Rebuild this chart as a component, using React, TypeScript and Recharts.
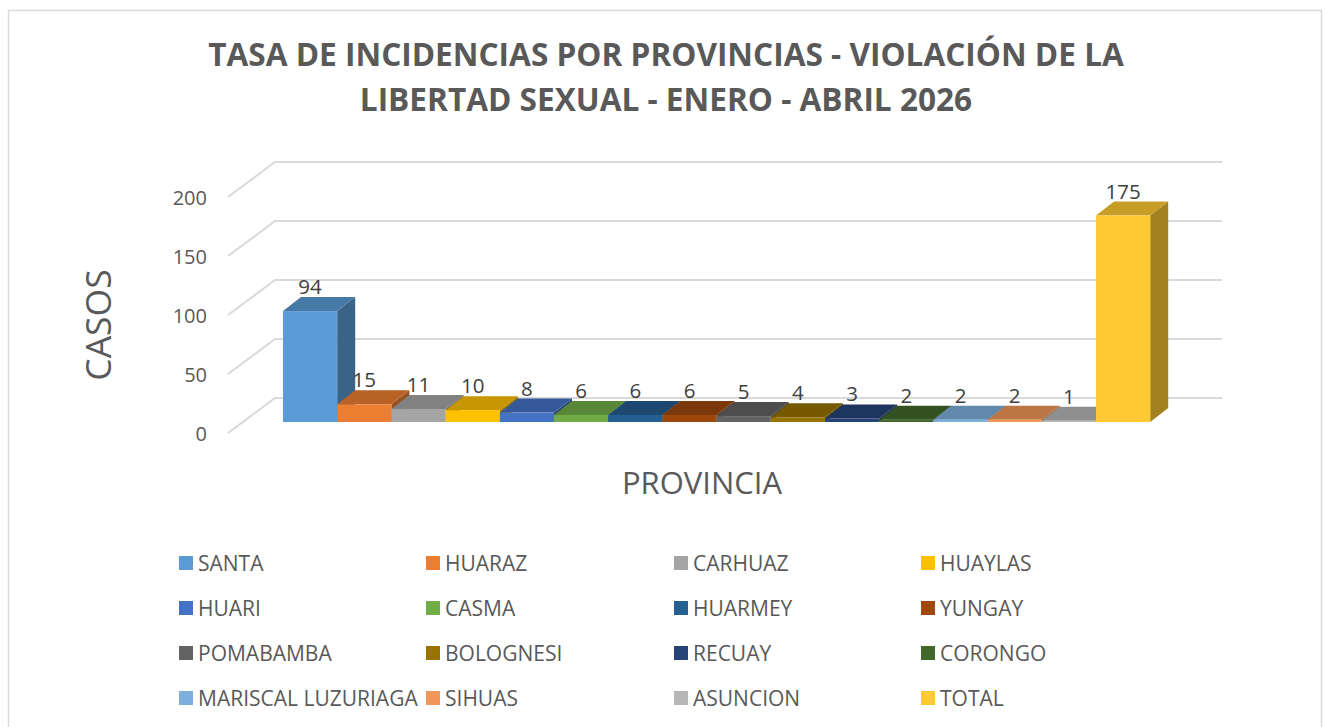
import { Bar, BarChart, CartesianGrid, LabelList, XAxis, YAxis } from 'recharts'

const provinces = [
  'SANTA', 'HUARAZ', 'CARHUAZ', 'HUAYLAS',
  'HUARI', 'CASMA', 'HUARMEY', 'YUNGAY',
  'POMABAMBA', 'BOLOGNESI', 'RECUAY', 'CORONGO',
  'MARISCAL LUZURIAGA', 'SIHUAS', 'ASUNCION', 'TOTAL',
]
const casos = [94, 15, 11, 10, 8, 6, 6, 6, 5, 4, 3, 2, 2, 2, 1, 175]
const colors = [
  '#5B9BD5', '#ED7D31', '#A5A5A5', '#FFC000',
  '#4472C4', '#70AD47', '#255E91', '#9E480E',
  '#636363', '#997300', '#264478', '#43682B',
  '#7CAFDD', '#F1975A', '#B7B7B7', '#FFC933',
]
const yTicks = [0, 50, 100, 150, 200]
const titleLines = [
  'TASA DE INCIDENCIAS POR PROVINCIAS - VIOLACIÓN DE LA',
  'LIBERTAD SEXUAL - ENERO - ABRIL 2026',
]

const chartData = [
  { name: 'PROVINCIA', ...Object.fromEntries(provinces.map((p, i) => [p, casos[i]])) },
]

const FONT = '"Open Sans", sans-serif'
const TEXT = '#595959'
const DX = 18
const DY = 14

function shade(hex: string, k: number) {
  const n = parseInt(hex.slice(1), 16)
  const c = [(n >> 16) & 255, (n >> 8) & 255, n & 255].map((v) => Math.round(v * k))
  return `rgb(${c[0]},${c[1]},${c[2]})`
}

function Bar3D(props: any) {
  const { x, y, width: w, height: h, fill } = props
  if (x == null || w == null) return null
  return (
    <g>
      <polygon
        points={`${x + w},${y} ${x + w + DX},${y - DY} ${x + w + DX},${y + h - DY} ${x + w},${y + h}`}
        fill={shade(fill, 0.64)}
      />
      <polygon
        points={`${x},${y} ${x + DX},${y - DY} ${x + w + DX},${y - DY} ${x + w},${y}`}
        fill={shade(fill, 0.78)}
      />
      <rect x={x} y={y} width={w} height={h} fill={fill} />
    </g>
  )
}

// back wall line + left side wall diagonal, drawn from each y tick
function gridLine(p: any) {
  const { x1, x2, y1, index } = p
  return (
    <path
      key={`grid-${index}-${y1}`}
      d={`M${x1 - 15},${y1 + 11} L${x1 + 32},${y1 - 24} L${x2 + 32},${y1 - 24}`}
      stroke="#D9D9D9"
      strokeWidth={2}
      fill="none"
    />
  )
}

function yTick(p: any) {
  const { y, payload } = p
  return (
    <text x={207} y={y + 11} textAnchor="end" dominantBaseline="central" fontSize={20} fontFamily={FONT} fill={TEXT}>
      {payload.value}
    </text>
  )
}

function barLabel(p: any) {
  const { x, y, width, value } = p
  if (x == null) return null
  return (
    <text x={x + width / 2} y={y - 17} textAnchor="middle" fontSize={20.5} fontFamily={FONT} fill="#404040">
      {value}
    </text>
  )
}

const legendCols = [179, 426, 674, 921]
const legendRows = [563, 608, 653, 698]

export default function App() {
  return (
    <div style={{ position: 'fixed', left: 0, top: 0, width: 1326, height: 727, overflow: 'hidden', background: '#fff' }}>
      <BarChart
        width={1326}
        height={727}
        data={chartData}
        margin={{ top: 186, right: 136, bottom: 305, left: 183 }}
        barGap={0}
      >
        <CartesianGrid vertical={false} horizontal={gridLine} />
        <XAxis dataKey="name" hide />
        <YAxis
          width={60}
          domain={[0, 200]}
          ticks={yTicks}
          axisLine={false}
          tickLine={false}
          tick={yTick}
        />
        {provinces.map((p, i) => (
          <Bar key={p} dataKey={p} fill={colors[i]} barSize={54.2} shape={Bar3D} isAnimationActive={false}>
            <LabelList dataKey={p} content={barLabel} />
          </Bar>
        ))}
      </BarChart>
      <svg width={1326} height={727} style={{ position: 'absolute', left: 0, top: 0, pointerEvents: 'none' }}>
        <rect x={8.5} y={10.5} width={1313} height={740} fill="none" stroke="#D9D9D9" strokeWidth={1.5} />
        {titleLines.map((t, i) => (
          <text key={t} x={666} y={66 + i * 45} textAnchor="middle" fontSize={31.6} fontWeight={700} fontFamily={FONT} fill={TEXT}>
            {t}
          </text>
        ))}
        <text
          x={97}
          y={325}
          transform="rotate(-90 97 325)"
          textAnchor="middle"
          dominantBaseline="central"
          fontSize={35.5}
          fontFamily={FONT}
          fill={TEXT}
        >
          CASOS
        </text>
        <text x={702} y={482} textAnchor="middle" dominantBaseline="central" fontSize={31} fontFamily={FONT} fill={TEXT}>
          PROVINCIA
        </text>
        {provinces.map((p, i) => {
          const cx = legendCols[i % 4]
          const cy = legendRows[Math.floor(i / 4)]
          return (
            <g key={p}>
              <rect x={cx} y={cy - 7} width={14} height={14} fill={colors[i]} />
              <text x={cx + 19} y={cy} dominantBaseline="central" fontSize={21} fontFamily={FONT} fill={TEXT}>
                {p}
              </text>
            </g>
          )
        })}
      </svg>
    </div>
  )
}
